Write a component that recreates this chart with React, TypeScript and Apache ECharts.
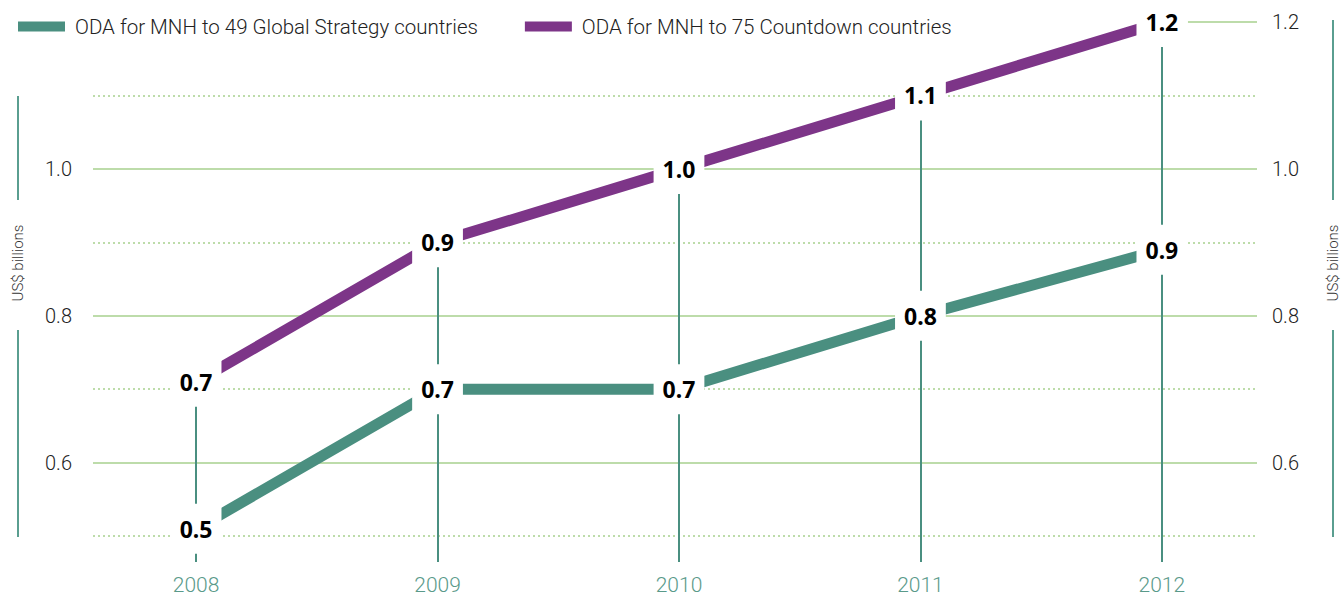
import React, { useEffect, useRef } from "react";
import * as echarts from "echarts";

const years = [2008, 2009, 2010, 2011, 2012];
const globalStrategy = [0.51, 0.7, 0.7, 0.8, 0.89];
const countdown = [0.71, 0.9, 1.0, 1.1, 1.2];
const seriesNames = [
  "ODA for MNH to 49 Global Strategy countries",
  "ODA for MNH to 75 Countdown countries",
];
const solidGrid = [0.6, 0.8, 1.0];
const dottedGrid = [0.5, 0.7, 0.9, 1.1];
const leftTicks = [0.6, 0.8, 1.0];
const rightTicks = [0.6, 0.8, 1.0, 1.2];
const axisTitle = "US$ billions";

const X_MIN = 2007.573;
const X_MAX = 2012.394;
const Y_MIN = 0.4647;
const Y_MAX = 1.2;

const TEAL = "#4a8f80";
const PURPLE = "#7d3588";
const GRID_GREEN = "#bddcaa";

export default function App() {
  const ref = useRef<HTMLDivElement>(null);
  useEffect(() => {
    if (!ref.current) return;
    const chart = echarts.init(ref.current, undefined, { renderer: "svg" });
    const labelStyle = {
      show: true,
      position: "inside",
      formatter: (p: any) => Number(p.value[1]).toFixed(1),
      backgroundColor: "#ffffff",
      padding: [13, 9, 13, 9],
      lineHeight: 24,
      fontFamily: "Noto Sans",
      fontWeight: "bold",
      fontSize: 23,
      color: "#000",
    };
    const gridLines: any[] = [
      ...solidGrid.map((v) => ({
        yAxis: v,
        lineStyle: { type: "solid", color: GRID_GREEN, width: 2 },
      })),
      ...dottedGrid.map((v) => ({
        yAxis: v,
        lineStyle: { type: [2, 3], color: GRID_GREEN, width: 2 },
      })),
      [
        { coord: [2012.108, rightTicks[rightTicks.length - 1]] },
        { coord: [X_MAX, rightTicks[rightTicks.length - 1]] },
      ],
    ];
    const verticals = years.map((y, i) => [
      { coord: [y, countdown[i]], lineStyle: { color: TEAL, width: 2, type: "solid" } },
      { coord: [y, Y_MIN] },
    ]);
    const axisLabelBase = {
      fontFamily: "Roboto",
      fontWeight: 300,
      fontSize: 20,
      color: "#222",
      formatter: (v: number) => v.toFixed(1),
    };
    chart.setOption({
      animation: false,
      legend: {
        left: 10,
        top: 10,
        padding: [6, 8, 6, 8],
        itemWidth: 47,
        itemHeight: 10,
        itemGap: 47,
        icon: "rect",
        data: [
          { name: seriesNames[0], itemStyle: { color: TEAL } },
          { name: seriesNames[1], itemStyle: { color: PURPLE } },
        ],
        textStyle: {
          fontFamily: "Roboto",
          fontSize: 20.5,
          fontWeight: 300,
          color: "#222",
          padding: [0, 0, 0, 5],
        },
      },
      grid: { left: 93, right: 84, top: 22, bottom: 32 },
      xAxis: {
        type: "value",
        min: X_MIN,
        max: X_MAX,
        axisLine: { show: false },
        axisTick: { show: false },
        splitLine: { show: false },
        axisLabel: {
          customValues: years,
          formatter: (v: number) => String(Math.round(v)),
          margin: 12,
          fontFamily: "Roboto",
          fontWeight: 300,
          fontSize: 21,
          color: "#5a9a8a",
        },
      },
      yAxis: [
        {
          type: "value",
          min: Y_MIN,
          max: Y_MAX,
          position: "left",
          axisLine: { show: false },
          axisTick: { show: false },
          splitLine: { show: false },
          axisLabel: { ...axisLabelBase, customValues: leftTicks, margin: 21 },
        },
        {
          type: "value",
          min: Y_MIN,
          max: Y_MAX,
          position: "right",
          axisLine: { show: false },
          axisTick: { show: false },
          splitLine: { show: false },
          axisLabel: { ...axisLabelBase, customValues: rightTicks, margin: 15 },
        },
      ],
      series: [
        {
          name: "_grid",
          type: "line",
          z: 1,
          symbol: "none",
          silent: true,
          data: years.map((y, i) => [y, countdown[i]]),
          lineStyle: { width: 0, opacity: 0 },
          markLine: {
            z: 1,
            silent: true,
            symbol: "none",
            label: { show: false },
            animation: false,
            lineStyle: { type: "solid", color: GRID_GREEN, width: 2 },
            data: [...gridLines, ...verticals],
          },
        },
        {
          name: seriesNames[0],
          type: "line",
          z: 3,
          clip: false,
          color: TEAL,
          symbol: "circle",
          symbolSize: 1,
          itemStyle: { color: "transparent" },
          lineStyle: { width: 11, color: TEAL, cap: "butt" },
          data: years.map((y, i) => [y, globalStrategy[i]]),
          label: labelStyle,
        },
        {
          name: seriesNames[1],
          type: "line",
          z: 3,
          clip: false,
          color: PURPLE,
          symbol: "circle",
          symbolSize: 1,
          itemStyle: { color: "transparent" },
          lineStyle: { width: 11, color: PURPLE, cap: "butt" },
          data: years.map((y, i) => [y, countdown[i]]),
          label: labelStyle,
        },
      ],
      graphic: [
        { type: "line", shape: { x1: 18, y1: 96, x2: 18, y2: 200 }, style: { stroke: "#5a9e90", lineWidth: 2 } },
        { type: "line", shape: { x1: 18, y1: 330, x2: 18, y2: 537 }, style: { stroke: "#5a9e90", lineWidth: 2 } },
        { type: "line", shape: { x1: 1333, y1: 20, x2: 1333, y2: 200 }, style: { stroke: "#5a9e90", lineWidth: 2 } },
        { type: "line", shape: { x1: 1333, y1: 330, x2: 1333, y2: 537 }, style: { stroke: "#5a9e90", lineWidth: 2 } },
        {
          type: "text",
          x: 18,
          y: 263,
          rotation: Math.PI / 2,
          style: { text: axisTitle, align: "center", verticalAlign: "middle", fontFamily: "Roboto", fontWeight: 300, fontSize: 15, fill: "#333" },
        },
        {
          type: "text",
          x: 1333,
          y: 263,
          rotation: Math.PI / 2,
          style: { text: axisTitle, align: "center", verticalAlign: "middle", fontFamily: "Roboto", fontWeight: 300, fontSize: 15, fill: "#333" },
        },
      ],
    });
    return () => chart.dispose();
  }, []);
  return (
    <div
      ref={ref}
      style={{ position: "fixed", left: 0, top: 0, width: 1341, height: 595, background: "#fff" }}
    />
  );
}
